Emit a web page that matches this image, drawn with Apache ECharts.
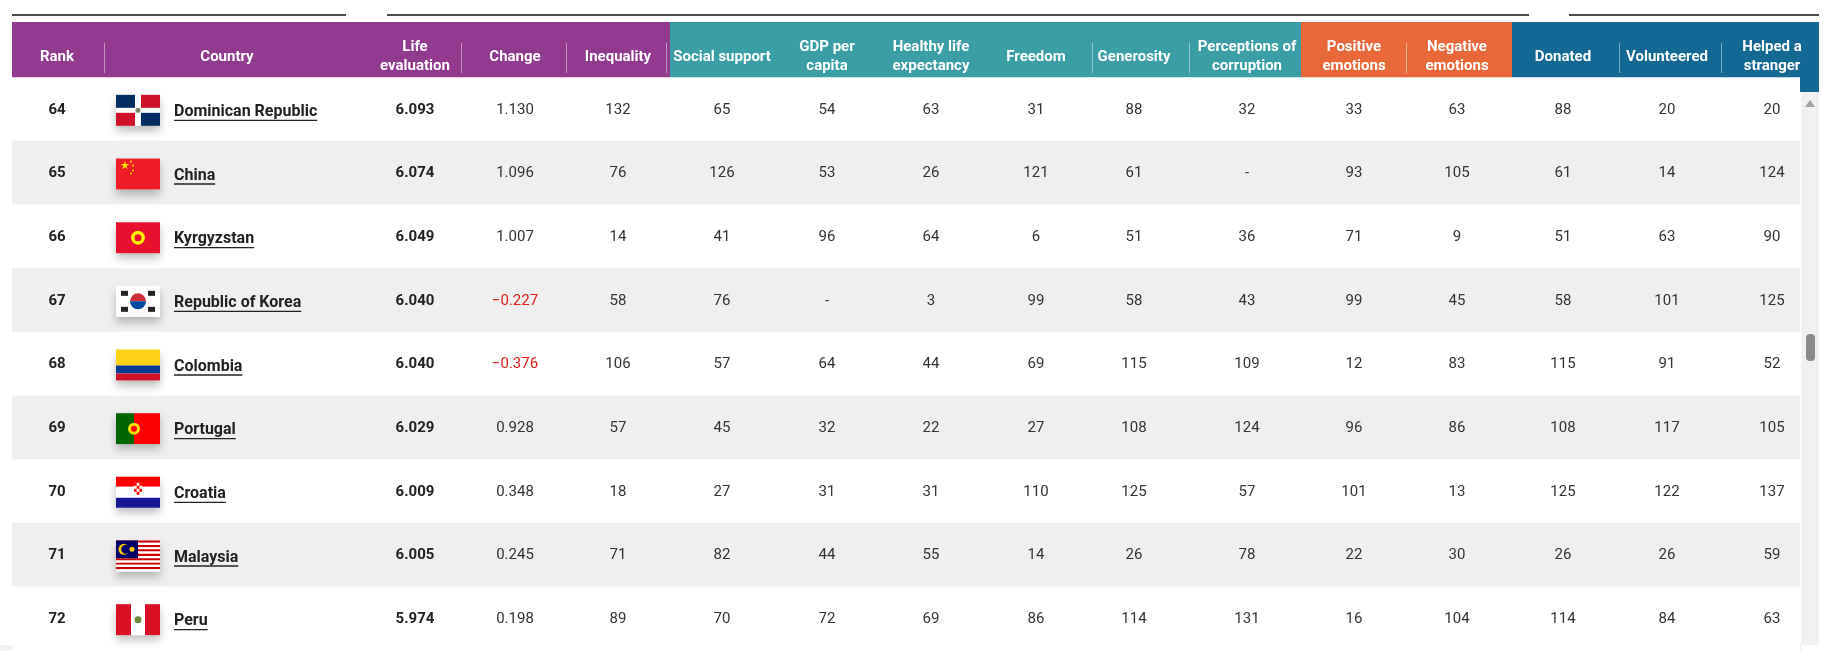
<!DOCTYPE html>
<html>
<head>
<meta charset="utf-8">
<script src="https://cdn.jsdelivr.net/npm/echarts@6/dist/echarts.min.js"></script>
<style>
  html, body { margin: 0; padding: 0; background: #fff; }
  #chart { width: 1825px; height: 651px; }
</style>
</head>
<body>
<div id="chart"></div>
<script>
// ---- data ----
const ranks = [64, 65, 66, 67, 68, 69, 70, 71, 72];
const countries = ['Dominican Republic', 'China', 'Kyrgyzstan', 'Republic of Korea', 'Colombia', 'Portugal', 'Croatia', 'Malaysia', 'Peru'];
const flagCodes = ['DO', 'CN', 'KG', 'KR', 'CO', 'PT', 'HR', 'MY', 'PE'];
const lifeEval = ['6.093', '6.074', '6.049', '6.040', '6.040', '6.029', '6.009', '6.005', '5.974'];
const change = ['1.130', '1.096', '1.007', '-0.227', '-0.376', '0.928', '0.348', '0.245', '0.198'];
const inequality = [132, 76, 14, 58, 106, 57, 18, 71, 89];
const socialSupport = [65, 126, 41, 76, 57, 45, 27, 82, 70];
const gdpPerCapita = [54, 53, 96, null, 64, 32, 31, 44, 72];
const healthyLife = [63, 26, 64, 3, 44, 22, 31, 55, 69];
const freedom = [31, 121, 6, 99, 69, 27, 110, 14, 86];
const generosity = [88, 61, 51, 58, 115, 108, 125, 26, 114];
const corruption = [32, null, 36, 43, 109, 124, 57, 78, 131];
const positiveEmo = [33, 93, 71, 99, 12, 96, 101, 22, 16];
const negativeEmo = [63, 105, 9, 45, 83, 86, 13, 30, 104];
const donated = [88, 61, 51, 58, 115, 108, 125, 26, 114];
const volunteered = [20, 14, 63, 101, 91, 117, 122, 26, 84];
const helped = [20, 124, 90, 125, 52, 105, 137, 59, 63];
const headers = ['Rank', 'Country', 'Life\nevaluation', 'Change', 'Inequality', 'Social support', 'GDP per\ncapita',
  'Healthy life\nexpectancy', 'Freedom', 'Generosity', 'Perceptions of\ncorruption', 'Positive\nemotions',
  'Negative\nemotions', 'Donated', 'Volunteered', 'Helped a\nstranger'];

// ---- layout ----
const colX = [57, 227, 415, 515, 618, 722, 827, 931, 1036, 1134, 1247, 1354, 1457, 1563, 1667, 1772];
const numCols = [inequality, socialSupport, gdpPerCapita, healthyLife, freedom, generosity, corruption,
  positiveEmo, negativeEmo, donated, volunteered, helped];
const ROW_H = 65.3, TOP = 78, LEFT = 12, RIGHT = 1800;
const FONT = 'Roboto, "Noto Sans", sans-serif';

const measure = (() => {
  const ctx = document.createElement('canvas').getContext('2d');
  return (t, f) => { ctx.font = f; return ctx.measureText(t).width; };
})();

function flag(code, x, y) {
  const w = 44, h = 31, c = [];
  const r = (a, b, ww, hh, fill) => c.push({ type: 'rect', shape: { x: x + a, y: y + b, width: ww, height: hh }, style: { fill } });
  const circ = (cx, cy, rr, fill) => c.push({ type: 'circle', shape: { cx: x + cx, cy: y + cy, r: rr }, style: { fill } });
  c.push({ type: 'rect', shape: { x, y, width: w, height: h },
    style: { fill: '#fff', shadowBlur: 8, shadowOffsetY: 5, shadowColor: 'rgba(0,0,0,0.25)' } });
  if (code === 'DO') {
    r(0, 0, w, h, '#fff');
    r(0, 0, 19, 13, '#002d62'); r(25, 0, 19, 13, '#ce1126');
    r(0, 18, 19, 13, '#ce1126'); r(25, 18, 19, 13, '#002d62');
    circ(22, 15.5, 2.5, '#7a8a6a');
  } else if (code === 'CN') {
    r(0, 0, w, h, '#ee1c25');
    c.push({ type: 'text', style: { x: x + 4, y: y + 2, text: '★', fill: '#ffde00', font: '11px sans-serif' } });
    [[15, 3], [17, 7], [17, 12], [15, 15]].forEach(p => circ(p[0], p[1], 1, '#ffde00'));
  } else if (code === 'KG') {
    r(0, 0, w, h, '#e8112d'); circ(22, 15.5, 7, '#ffef00'); circ(22, 15.5, 3.5, '#e8112d');
  } else if (code === 'KR') {
    r(0, 0, w, h, '#fff');
    c.push({ type: 'sector', shape: { cx: x + 22, cy: y + 15.5, r: 8, startAngle: Math.PI, endAngle: 2 * Math.PI }, style: { fill: '#cd2e3a' } });
    c.push({ type: 'sector', shape: { cx: x + 22, cy: y + 15.5, r: 8, startAngle: 0, endAngle: Math.PI }, style: { fill: '#0047a0' } });
    r(5, 5, 7, 5, '#222'); r(32, 5, 7, 5, '#222'); r(5, 21, 7, 5, '#222'); r(32, 21, 7, 5, '#222');
  } else if (code === 'CO') {
    r(0, 0, w, 16, '#fcd116'); r(0, 16, w, 8, '#003893'); r(0, 24, w, 7, '#ce1126');
  } else if (code === 'PT') {
    r(0, 0, 18, h, '#006600'); r(18, 0, 26, h, '#ff0000'); circ(18, 15.5, 6, '#ffe000'); circ(18, 15.5, 3, '#ff0000');
  } else if (code === 'HR') {
    r(0, 0, w, 10, '#ff0000'); r(0, 10, w, 11, '#fff'); r(0, 21, w, 10, '#171796');
    r(18, 6, 8, 12, '#fff');
    for (let a = 0; a < 4; a++) for (let b = 0; b < 3; b++) if ((a + b) % 2 === 0) r(18 + b * 2.7, 6 + a * 3, 2.7, 3, '#ff0000');
  } else if (code === 'MY') {
    for (let i = 0; i < 14; i++) r(0, i * h / 14, w, h / 14, i % 2 ? '#fff' : '#cc0001');
    r(0, 0, 22, 17.7, '#010066'); circ(8, 8.8, 5.5, '#ffcc00'); circ(9.8, 8.8, 4.6, '#010066'); circ(16, 8.8, 2.5, '#ffcc00');
  } else if (code === 'PE') {
    r(0, 0, 15, h, '#d91023'); r(15, 0, 14, h, '#fff'); r(29, 0, 15, h, '#d91023'); circ(22, 15.5, 3.5, '#6a8a3a');
  }
  return c;
}

const chart = echarts.init(document.getElementById('chart'));

function renderRow(params, api) {
  const i = api.value(0);
  const yc = api.coord([0, i])[1];
  const top = yc - ROW_H / 2;
  const ch = [];
  ch.push({ type: 'rect', shape: { x: LEFT, y: top, width: RIGHT - LEFT, height: ROW_H },
    style: { fill: i % 2 ? '#efefef' : '#ffffff' } });
  const txt = (x, t, opt) => ch.push({ type: 'text', style: Object.assign({
    x, y: yc, text: t, align: 'center', verticalAlign: 'middle', fill: '#333', font: '15px ' + FONT }, opt || {}) });
  txt(colX[0], String(ranks[i]), { font: 'bold 15px ' + FONT, fill: '#222' });
  ch.push(...flag(flagCodes[i], 116, yc - 15));
  const nameFont = 'bold 16px ' + FONT;
  txt(174, countries[i], { align: 'left', font: nameFont, fill: '#222', y: yc + 2 });
  ch.push({ type: 'line', shape: { x1: 174, y1: yc + 10.5, x2: 174 + measure(countries[i], nameFont), y2: yc + 10.5 },
    style: { stroke: '#222', lineWidth: 1.3 } });
  txt(colX[2], lifeEval[i], { font: 'bold 15px ' + FONT, fill: '#222' });
  const neg = change[i].startsWith('-');
  txt(colX[3], neg ? '\u2212' + change[i].slice(1) : change[i], { fill: neg ? '#e0201b' : '#333' });
  numCols.forEach((arr, k) => txt(colX[4 + k], arr[i] == null ? '-' : String(arr[i])));
  return { type: 'group', children: ch };
}

// header graphics
const header = [];
[[LEFT, 670, '#913a8f'], [670, 1301, '#3b9ea6'], [1301, 1512, '#e8683a'], [1512, 1819, '#146994']].forEach(b =>
  header.push({ type: 'rect', shape: { x: b[0], y: 22, width: b[1] - b[0], height: 70 }, style: { fill: b[2] } }));
[104, 461, 566, 666, 1092, 1189, 1406, 1619, 1721].forEach(x =>
  header.push({ type: 'rect', shape: { x, y: 43, width: 1, height: 30 }, style: { fill: 'rgba(255,255,255,0.45)' } }));
headers.forEach((h, k) => header.push({ type: 'text', style: {
  x: colX[k], y: 57, text: h, align: 'center', verticalAlign: 'middle', fill: '#fff',
  font: 'bold 15px ' + FONT, lineHeight: 19 } }));
// top lines
[[12, 346], [387, 1529], [1569, 1819]].forEach(s =>
  header.push({ type: 'line', shape: { x1: s[0], y1: 15, x2: s[1], y2: 15 }, style: { stroke: '#111', lineWidth: 1.5 } }));
// scrollbars
header.push({ type: 'rect', shape: { x: 1801, y: 92, width: 18, height: 553 }, style: { fill: '#f1f1f1' } });
header.push({ type: 'polygon', shape: { points: [[1805, 107], [1815, 107], [1810, 100]] }, style: { fill: '#a3a3a3' } });
header.push({ type: 'rect', shape: { x: 1806, y: 334, width: 9, height: 27, r: 4 }, style: { fill: '#8a8a8a' } });
header.push({ type: 'rect', shape: { x: 0, y: 645, width: 1801, height: 6 }, style: { fill: '#f1f1f1' } });
header.push({ type: 'rect', shape: { x: 35, y: 646, width: 1720, height: 5, r: 2.5 }, style: { fill: '#9a9a9a' } });

chart.setOption({
  animation: false,
  grid: { left: 0, right: 0, top: TOP, height: ROW_H * ranks.length },
  xAxis: { type: 'value', min: 0, max: 1825, show: false },
  yAxis: { type: 'category', data: ranks.map(String), inverse: true, show: false },
  series: [{
    type: 'custom',
    renderItem: renderRow,
    data: ranks.map((r, i) => [i]),
    encode: { y: 0 },
    clip: false
  }],
  graphic: { elements: [{ type: 'group', z: 100, children: header }] }
});
</script>
</body>
</html>
